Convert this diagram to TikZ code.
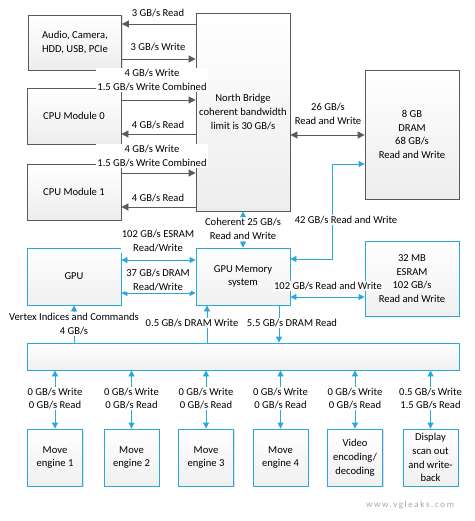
\documentclass[tikz,border=0pt]{standalone}
\usepackage{fontspec}
\setmainfont{Carlito}
\usetikzlibrary{arrows.meta,positioning,shadows}
\definecolor{linkblue}{HTML}{2BA8DA}
\definecolor{boxgray}{HTML}{5A5A5A}
\tikzset{
  gbox/.style={draw=boxgray, thick, top color=white, bottom color=gray!14, align=center,
    inner sep=2pt, drop shadow={shadow xshift=1.2pt, shadow yshift=-1.2pt, opacity=0.25}},
  bbox/.style={draw=linkblue, thick, top color=white, bottom color=linkblue!3!gray!12, align=center,
    inner sep=2pt, drop shadow={shadow xshift=1.2pt, shadow yshift=-1.2pt, opacity=0.25}},
  glink/.style={draw=boxgray, thick, -{Triangle[length=7pt,width=7pt]}},
  glinks/.style={draw=boxgray, thick, {Triangle[length=7pt,width=7pt]}-{Triangle[length=7pt,width=7pt]}},
  blink/.style={draw=linkblue, thick, -{Triangle[length=6pt,width=6pt]}},
  blinks/.style={draw=linkblue, thick, {Triangle[length=6pt,width=6pt]}-{Triangle[length=6pt,width=6pt]}},
  rate/.style={fill=white, align=center, inner sep=1pt},
}

\begin{document}
\begin{tikzpicture}[x=1pt, y=-1pt, font=\fontsize{10.6}{13.8}\selectfont]
  \useasboundingbox (0,0) rectangle (474,521);

  % Upper boxes
  \node[gbox, minimum width=93pt, minimum height=55pt] (audio) at (75,42.5) {Audio, Camera,\\HDD, USB, PCIe};
  \node[gbox, minimum width=94pt, minimum height=56pt] (cpua) at (74,116) {CPU Module 0};
  \node[gbox, minimum width=94pt, minimum height=56pt] (cpub) at (74,192) {CPU Module 1};
  \node[gbox, minimum width=94pt, minimum height=198pt] (nb) at (243,112) {North Bridge\\coherent bandwidth\\limit is 30 GB/s};
  \node[gbox, minimum width=94pt, minimum height=129pt] (dram) at (412,134.5) {8 GB\\DRAM\\68 GB/s\\Read and Write};

  % GPU boxes
  \node[bbox, minimum width=94pt, minimum height=57pt] (gpu) at (74,276.5) {GPU};
  \node[bbox, minimum width=94pt, minimum height=57pt] (gpumem) at (243,276.5) {GPU Memory\\system};
  \node[bbox, minimum width=94pt, minimum height=75pt] (esram) at (412,278.5) {32 MB\\ESRAM\\102 GB/s\\Read and Write};
  \node[bbox, minimum width=432pt, minimum height=27pt] (bus) at (243,356.5) {};

  % North bridge links
  \draw[glink] (nb.west |- 0,24) -- (audio.east |- 0,24);
  \node[rate] at (158,13) {3 GB/s Read};
  \draw[glink] (audio.east |- 0,59) -- (nb.west |- 0,59);
  \node[rate] at (158,47) {3 GB/s Write};
  \draw[glink] (cpua.east |- 0,100) -- (nb.west |- 0,100);
  \node[rate] at (152,80) {4 GB/s Write\\1.5 GB/s Write Combined};
  \draw[glink] (nb.west |- 0,134) -- (cpua.east |- 0,134);
  \node[rate] at (158,125) {4 GB/s Read};
  \draw[glink] (cpub.east |- 0,173) -- (nb.west |- 0,173);
  \node[rate] at (152,156) {4 GB/s Write\\1.5 GB/s Write Combined};
  \draw[glink] (nb.west |- 0,207) -- (cpub.east |- 0,207);
  \node[rate] at (158,198) {4 GB/s Read};
  \draw[glinks] (nb.east |- 0,135) -- (dram.west |- 0,135);
  \node[align=center] at (328,114) {26 GB/s\\Read and Write};

  % GPU memory links
  \coordinate (bend) at (332,164);
  \draw[blinks] (gpumem.east |- 0,259) -| (bend) -- (dram.west |- bend);
  \node[rate] at (346,220) {42 GB/s Read and Write};
  \draw[blinks] (nb.south) -- (gpumem.north);
  \node[rate] at (243,229) {Coherent 25 GB/s\\Read and Write};
  \draw[blinks] (gpu.east |- 0,260) -- (gpumem.west |- 0,260);
  \node[rate] at (158,241) {102 GB/s ESRAM\\Read/Write};
  \draw[blinks] (gpu.east |- 0,293) -- (gpumem.west |- 0,293);
  \node[rate] at (158,280) {37 GB/s DRAM\\Read/Write};
  \draw[blinks] (gpumem.east |- 0,297) -- (esram.west |- 0,297);
  \node[rate] at (328,286) {102 GB/s Read and Write};

  % Bus links
  \draw[blink] (bus.north -| 74,0) -- (gpu.south -| 74,0);
  \node[rate] at (74,324) {Vertex Indices and Commands\\4 GB/s};
  \draw[blink] (bus.north -| 207,0) -- (gpumem.south -| 207,0);
  \node[rate] at (192,323) {0.5 GB/s DRAM Write};
  \draw[blink] (gpumem.south -| 279,0) -- (bus.north -| 279,0);
  \node[rate] at (292,323) {5.5 GB/s DRAM Read};

  % Engines
  \foreach \x/\name/\txt/\wr/\rd in {55/mea/{Move\\engine 1}/0/0, 131.5/meb/{Move\\engine 2}/0/0,
      206/mec/{Move\\engine 3}/0/0, 280.5/med/{Move\\engine 4}/0/0,
      355/video/{Video\\encoding/\\decoding}/0/0, 430.5/disp/{Display\\scan out\\and write-\\back}/0.5/1.5} {
    \node[bbox, minimum width=55pt, minimum height=57pt] (\name) at (\x,457.5) {\txt};
    \draw[blinks] (\name.north) -- (bus.south -| \name.north);
    \node[rate] at (\x,398.5) {\wr{} GB/s Write\\\rd{} GB/s Read};
  }

  \node[text=gray!70, font=\fontsize{9}{10}\selectfont\addfontfeatures{LetterSpace=18}] (site) at (410,505) {www.vgleaks.com};
\end{tikzpicture}
\end{document}
